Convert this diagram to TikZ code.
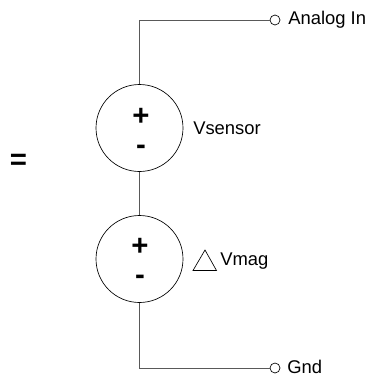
\documentclass[tikz,border=0pt]{standalone}
\usepackage{amsmath}
\usepackage{fontspec}
\setmainfont{Liberation Sans}
\tikzset{
    source/.style = {draw, circle, minimum size = 65.25pt, inner sep = 0pt, line width = 0.5pt},
    term/.style = {draw, circle, minimum size = 7.5pt, inner sep = 0pt, line width = 0.5pt},
    wire/.style = {line width = 0.75pt, draw = black!65},
    lab/.style = {inner sep = 0pt, anchor = west},
    sign/.style = {inner sep = 0pt, font = \fontsize{22}{22}\selectfont}
}

\begin{document}
\begin{tikzpicture}[x = 0.75pt, y = -0.75pt, font = \fontsize{13.8}{16}\selectfont]
        \useasboundingbox (0,0) rectangle (377,375);

        \node[source] (vsensor) at (139.5,128) {};
        \node[source] (vmag) at (139.5,259) {};
        \node[term] (analogin) at (275,20) {};
        \node[term] (gnd) at (275,368) {};
        \coordinate (topcorner) at (139.5,20);
        \coordinate (botcorner) at (139.5,368);

        \draw[wire] (vsensor) -- (topcorner) -- (analogin);
        \draw[wire] (vsensor) -- (vmag);
        \draw[wire] (vmag) -- (botcorner) -- (gnd);

        \node[sign] (plusa) at (141,117) {\textbf{+}};
        \node[sign] (minusa) at (141,150) {\textbf{-}};
        \node[sign] (plusb) at (140,247) {\textbf{+}};
        \node[sign] (minusb) at (140,280) {\textbf{-}};

        \node[sign] (equals) at (18.5,162) {\textbf{=}};

        \node[lab] (analoglab) at (288,19.5) {Analog In};
        \node[lab] (gndlab) at (287,367) {Gnd};
        \node[lab] (vsensorlab) at (193,128) {Vsensor};
        \node[lab] (vmaglab) at (220,261) {Vmag};

        \draw[line width = 0.5pt] (193,270.5) -- (216.5,270.5) -- (205,250) -- cycle;
\end{tikzpicture}
\end{document}
